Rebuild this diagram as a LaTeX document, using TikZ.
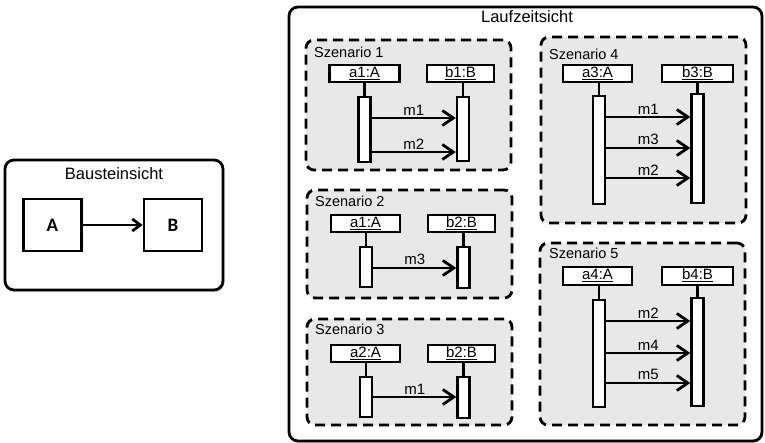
\documentclass[tikz,border=0pt]{standalone}
\usepackage{fontspec}
\setmainfont{Liberation Sans}
\newfontfamily\compfont{Carlito}
\usetikzlibrary{arrows.meta,shadows}

\tikzset{
  view/.style={draw, line width=2.8pt, rounded corners=9pt, fill=white,
    drop shadow={shadow xshift=1.5pt, shadow yshift=-2pt, opacity=0.3}},
  viewtitle/.style={font=\fontsize{16.5}{18}\selectfont, inner sep=0pt},
  scen/.style={draw, dash pattern=on 10pt off 6pt, line width=2.8pt,
    rounded corners=8pt, fill=black!9, inner sep=0pt},
  scentitle/.style={anchor=west, inner sep=0pt, font=\fontsize{14.5}{16}\selectfont},
  lifehead/.style={draw, line width=2.8pt, fill=white, inner sep=0pt,
    minimum height=17pt, text height=10.5pt, text depth=2.5pt,
    font=\fontsize{15}{16}\selectfont},
  actbar/.style={draw, line width=2.4pt, fill=white, inner sep=0pt, minimum width=12pt},
  stem/.style={line width=2.4pt},
  msg/.style={line width=2.8pt, -{Straight Barb[length=11pt,width=15pt]}},
  msglabel/.style={above, inner sep=1.5pt, font=\fontsize{15}{16}\selectfont},
  comp/.style={draw, line width=2.8pt, minimum width=58pt, minimum height=52pt,
    inner sep=0pt, font=\compfont\bfseries\fontsize{19}{20}\selectfont},
  dep/.style={line width=2.8pt, -{Straight Barb[length=8pt,width=12pt]}},
}

\begin{document}
\begin{tikzpicture}[x=1pt,y=-1pt]
\useasboundingbox (0,0) rectangle (765,443);

% ---- building block view ----
\node[view, minimum width=218pt, minimum height=130pt] (bv) at (114,225) {};
\node[viewtitle] (bvt) at (114,174) {Bausteinsicht};
\node[comp] (A) at (52.5,225) {A};
\node[comp] (B) at (173,225) {B};
\draw[dep] (A) -- (B);

% ---- runtime view ----
\node[view, minimum width=473pt, minimum height=434pt] (rv) at (525.5,224) {};
\node[viewtitle] (rvt) at (527,17) {Laufzeitsicht};

% Szenario 1
\node[scen, minimum width=205pt, minimum height=130pt] (s1) at (408.5,105) {};
\node[scentitle] (s1t) at (314,52) {Szenario 1};
\node[lifehead, minimum width=70pt] (h1a) at (364.5,73.5) {\underline{a1:A}};
\node[lifehead, minimum width=67pt] (h1b) at (460.5,73.5) {\underline{b1:B}};
\node[actbar, minimum height=65pt] (a1a) at (364.5,129.5) {};
\node[actbar, minimum height=64pt] (a1b) at (463,129) {};
\draw[stem] (h1a.south) -- (h1a.south |- a1a.north);
\draw[stem] (h1b.south -| a1b) -- (a1b.north);
\draw[msg] (a1a.east |- 0,118) -- node[msglabel] {m1} (a1b.west |- 0,118);
\draw[msg] (a1a.east |- 0,152) -- node[msglabel] {m2} (a1b.west |- 0,152);

% Szenario 2
\node[scen, minimum width=205pt, minimum height=108pt] (s2) at (409.5,244) {};
\node[scentitle] (s2t) at (315,201) {Szenario 2};
\node[lifehead, minimum width=69pt] (h2a) at (365.5,223.5) {\underline{a1:A}};
\node[lifehead, minimum width=67pt] (h2b) at (461.5,223.5) {\underline{b2:B}};
\node[actbar, minimum height=40pt] (a2a) at (366,267) {};
\node[actbar, minimum height=41pt] (a2b) at (463.5,267.5) {};
\draw[stem] (h2a.south -| a2a) -- (a2a.north);
\draw[stem] (h2b.south -| a2b) -- (a2b.north);
\draw[msg] (a2a.east |- 0,268) -- node[msglabel] {m3} (a2b.west |- 0,268);

% Szenario 3
\node[scen, minimum width=205pt, minimum height=106pt] (s3) at (409.5,372) {};
\node[scentitle] (s3t) at (315,329) {Szenario 3};
\node[lifehead, minimum width=69pt] (h3a) at (365.5,353.5) {\underline{a2:A}};
\node[lifehead, minimum width=67pt] (h3b) at (461.5,353.5) {\underline{b2:B}};
\node[actbar, minimum height=40pt] (a3a) at (366,397) {};
\node[actbar, minimum height=41pt] (a3b) at (463.5,397.5) {};
\draw[stem] (h3a.south -| a3a) -- (a3a.north);
\draw[stem] (h3b.south -| a3b) -- (a3b.north);
\draw[msg] (a3a.east |- 0,397) -- node[msglabel] {m1} (a3b.west |- 0,397);

% Szenario 4
\node[scen, minimum width=205pt, minimum height=186pt] (s4) at (643.5,130) {};
\node[scentitle] (s4t) at (549,54) {Szenario 4};
\node[lifehead, minimum width=69pt] (h4a) at (597.5,73.5) {\underline{a3:A}};
\node[lifehead, minimum width=71pt] (h4b) at (697.5,73.5) {\underline{b3:B}};
\node[actbar, minimum height=108pt] (a4a) at (599,150) {};
\node[actbar, minimum height=109pt] (a4b) at (697.5,148.5) {};
\draw[stem] (h4a.south -| a4a) -- (a4a.north);
\draw[stem] (h4b.south -| a4b) -- (a4b.north);
\draw[msg] (a4a.east |- 0,117) -- node[msglabel] {m1} (a4b.west |- 0,117);
\draw[msg] (a4a.east |- 0,148) -- node[msglabel] {m3} (a4b.west |- 0,148);
\draw[msg] (a4a.east |- 0,178) -- node[msglabel] {m2} (a4b.west |- 0,178);

% Szenario 5
\node[scen, minimum width=205pt, minimum height=182pt] (s5) at (642.5,334) {};
\node[scentitle] (s5t) at (549,253) {Szenario 5};
\node[lifehead, minimum width=69pt, minimum height=18pt] (h5a) at (597.5,276) {\underline{a4:A}};
\node[lifehead, minimum width=71pt, minimum height=18pt] (h5b) at (697.5,276) {\underline{b4:B}};
\node[actbar, minimum height=107pt] (a5a) at (599,353.5) {};
\node[actbar, minimum height=108pt] (a5b) at (697.5,352) {};
\draw[stem] (h5a.south -| a5a) -- (a5a.north);
\draw[stem] (h5b.south -| a5b) -- (a5b.north);
\draw[msg] (a5a.east |- 0,321) -- node[msglabel] {m2} (a5b.west |- 0,321);
\draw[msg] (a5a.east |- 0,353) -- node[msglabel] {m4} (a5b.west |- 0,353);
\draw[msg] (a5a.east |- 0,383) -- node[msglabel] {m5} (a5b.west |- 0,383);
\end{tikzpicture}
\end{document}
